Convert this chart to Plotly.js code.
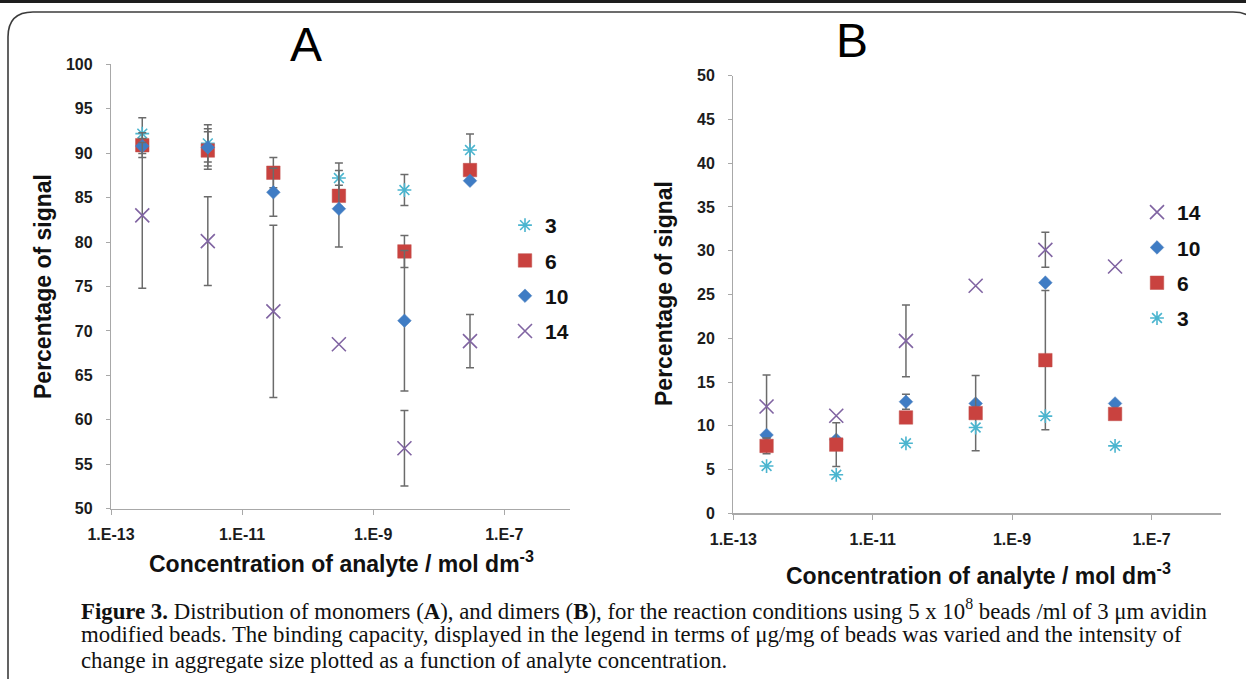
<!DOCTYPE html>
<html>
<head>
<meta charset="utf-8">
<script src="https://cdn.plot.ly/plotly-3.0.1.min.js"></script>
<style>
  html, body { margin: 0; padding: 0; background: #ffffff; }
  #chart { width: 1246px; height: 679px; }
</style>
</head>
<body>
<div id="chart"></div>
<script>
// Analyte concentrations (mol dm-3), shared by both panels
const concentration = [3e-13, 3e-12, 3e-11, 3e-10, 3e-9, 3e-8];

// Tick labels for the logarithmic concentration axis
const concTickVals = [1e-13, 1e-11, 1e-9, 1e-7];
const concTickText = ['1.E-13', '1.E-11', '1.E-9', '1.E-7'];

// Panel A – monomers, percentage of signal per binding capacity (µg/mg)
const monoCap3 = [92.2, 91.1, null, 87.2, 85.85, 90.35];
const monoCap3Err = [1.8, 2.1, null, 1.7, 1.75, 1.8];
const monoCap6 = [90.9, 90.3, 87.8, 85.2, 78.95, 88.1];
const monoCap6Err = [1.4, 2.1, 1.7, 1.2, 1.8, null];
const monoCap10 = [90.8, 90.65, 85.6, 83.75, 71.15, 86.9];
const monoCap10Err = [0.85, 2.1, 2.7, 4.3, 7.9, null];
const monoCap14 = [83.0, 80.1, 72.2, 68.5, 56.8, 68.85];
const monoCap14Err = [8.2, 5.0, 9.7, null, 4.25, 3.0];

// Panel B – dimers, percentage of signal per binding capacity (µg/mg)
const dimerCap14 = [12.2, 11.15, 19.7, 26.0, 30.1, 28.2];
const dimerCap14Err = [3.6, null, 4.1, null, 2.0, null];
const dimerCap10 = [8.95, 8.4, 12.75, 12.55, 26.35, 12.55];
const dimerCap10Err = [null, null, 0.85, null, null, null];
const dimerCap6 = [7.7, 7.85, 10.95, 11.45, 17.5, 11.35];
const dimerCap6Err = [0.9, 2.5, null, 4.3, 7.95, null];
const dimerCap3 = [5.4, 4.4, 8.0, 9.8, 11.1, 7.7];
const dimerCap3Err = [null, null, null, null, null, null];

// Figure caption, one entry per printed line
const captionLines = [
  '<b>Figure 3.</b> Distribution of monomers (<b>A</b>), and dimers (<b>B</b>), for the reaction conditions using 5 x 10<sup>8</sup> beads /ml of 3 μm avidin',
  'modified beads. The binding capacity, displayed in the legend in terms of μg/mg of beads was varied and the intensity of',
  'change in aggregate size plotted as a function of analyte concentration.'
];

// Figure size and helpers converting pixel positions to paper fractions
const W = 1246, H = 679;
const fx = p => p / W;
const fy = p => 1 - p / H;

const SANS = 'Liberation Sans, Arial, sans-serif';
const SERIF = 'Liberation Serif, Times New Roman, serif';

const styles = {
  '3':  { symbol: 'asterisk-open', size: 11.5, color: '#4bb5cf', line: { color: '#4bb5cf', width: 1.6 } },
  '6':  { symbol: 'square', size: 13.5, color: '#c9423f', line: { color: '#c0504d', width: 0.5 } },
  '10': { symbol: 'diamond', size: 10.5, color: '#3f7cc4', line: { color: '#4f81bd', width: 0.5 } },
  '14': { symbol: 'x-thin-open', size: 14, color: '#8064a2', line: { color: '#8064a2', width: 1.6 } }
};

const errArray = arr => arr.map(v => (v === null ? NaN : v));

function series(name, y, err, xa, ya, legend, group) {
  return {
    type: 'scatter',
    mode: 'markers',
    name: name,
    x: concentration,
    y: y,
    xaxis: xa,
    yaxis: ya,
    legend: legend,
    legendgroup: group,
    marker: styles[name],
    error_y: {
      type: 'data', array: errArray(err), visible: true,
      color: '#6b6b6b', thickness: 1.5, width: 4
    },
    hoverinfo: 'x+y+name'
  };
}

const traces = [
  series('3', monoCap3, monoCap3Err, 'x', 'y', 'legend', 'a3'),
  series('6', monoCap6, monoCap6Err, 'x', 'y', 'legend', 'a6'),
  series('10', monoCap10, monoCap10Err, 'x', 'y', 'legend', 'a10'),
  series('14', monoCap14, monoCap14Err, 'x', 'y', 'legend', 'a14'),
  series('14', dimerCap14, dimerCap14Err, 'x2', 'y2', 'legend2', 'b14'),
  series('10', dimerCap10, dimerCap10Err, 'x2', 'y2', 'legend2', 'b10'),
  series('6', dimerCap6, dimerCap6Err, 'x2', 'y2', 'legend2', 'b6'),
  series('3', dimerCap3, dimerCap3Err, 'x2', 'y2', 'legend2', 'b3')
];

const tickFont = { family: SANS, size: 16, color: '#1c1c1c', weight: 'bold' };

function concAxis(domain, anchor) {
  return {
    type: 'log', range: [-13, -6], domain: domain, anchor: anchor,
    tickmode: 'array', tickvals: concTickVals, ticktext: concTickText,
    ticks: 'outside', ticklen: 5, tickcolor: '#a8a8a8', tickwidth: 1,
    showline: true, linecolor: '#a8a8a8', linewidth: 1.2,
    showgrid: false, zeroline: false, tickfont: tickFont,
    ticklabelstandoff: 6
  };
}

function signalAxis(range, domain, anchor) {
  return {
    range: range, domain: domain, anchor: anchor,
    tick0: 0, dtick: 5,
    ticks: 'outside', ticklen: 4, tickcolor: '#a8a8a8', tickwidth: 1,
    showline: true, linecolor: '#a8a8a8', linewidth: 1.2,
    showgrid: false, zeroline: false, tickfont: tickFont,
    ticklabelstandoff: 10
  };
}

const legendStyle = (x, y) => ({
  x: x, y: y, xanchor: 'left', yanchor: 'top',
  font: { family: SANS, size: 21, color: '#111111', weight: 'bold' },
  bgcolor: 'rgba(0,0,0,0)', borderwidth: 0, tracegroupgap: 5,
  itemclick: false, itemdoubleclick: false
});

const axisTitleFont = { family: SANS, size: 23, color: '#111111', weight: 'bold' };

const annotations = [
  { text: 'A', x: fx(306), y: fy(45), xref: 'paper', yref: 'paper', showarrow: false,
    xanchor: 'center', yanchor: 'middle', font: { family: SANS, size: 48, color: '#000000' } },
  { text: 'B', x: fx(852), y: fy(40), xref: 'paper', yref: 'paper', showarrow: false,
    xanchor: 'center', yanchor: 'middle', font: { family: SANS, size: 48, color: '#000000' } },
  { text: 'Percentage of signal', textangle: -90, x: fx(43), y: fy(287), xref: 'paper', yref: 'paper',
    showarrow: false, xanchor: 'center', yanchor: 'middle', font: axisTitleFont },
  { text: 'Percentage of signal', textangle: -90, x: fx(664), y: fy(294), xref: 'paper', yref: 'paper',
    showarrow: false, xanchor: 'center', yanchor: 'middle', font: axisTitleFont },
  { text: 'Concentration of analyte / mol dm<sup>-3</sup>', x: fx(341), y: fy(562), xref: 'paper', yref: 'paper',
    showarrow: false, xanchor: 'center', yanchor: 'middle', font: axisTitleFont },
  { text: 'Concentration of analyte / mol dm<sup>-3</sup>', x: fx(978), y: fy(574), xref: 'paper', yref: 'paper',
    showarrow: false, xanchor: 'center', yanchor: 'middle', font: axisTitleFont }
];

// Caption lines, evenly spaced below the panels
const captionTop = 609, captionStep = 25.8;
captionLines.forEach((line, i) => {
  annotations.push({
    text: line, x: fx(79), y: fy(captionTop + i * captionStep), xref: 'paper', yref: 'paper',
    showarrow: false, xanchor: 'left', yanchor: 'middle', align: 'left',
    font: { family: SERIF, size: 22.8, color: '#111111' }
  });
});

// Page frame: dark rule along the top and a rounded border around the figure
const frameLeft = 8, frameTop = 12, frameRight = 1258, frameBottom = 700, rad = 25;
const framePath =
  `M ${fx(frameLeft)},${fy(frameBottom)} L ${fx(frameLeft)},${fy(frameTop + rad)} ` +
  `Q ${fx(frameLeft)},${fy(frameTop)} ${fx(frameLeft + rad)},${fy(frameTop)} ` +
  `L ${fx(frameRight - rad)},${fy(frameTop)} ` +
  `Q ${fx(frameRight)},${fy(frameTop)} ${fx(frameRight)},${fy(frameTop + rad)} ` +
  `L ${fx(frameRight)},${fy(frameBottom)}`;

const shapes = [
  { type: 'rect', xref: 'paper', yref: 'paper', x0: 0, x1: 1, y0: fy(3), y1: 1,
    fillcolor: '#1e1e1e', line: { width: 0 }, layer: 'below' },
  { type: 'path', xref: 'paper', yref: 'paper', path: framePath,
    line: { color: '#3c3c3c', width: 1.6 }, layer: 'below' }
];

const layout = {
  width: W, height: H,
  margin: { l: 0, r: 0, t: 0, b: 0 },
  paper_bgcolor: '#ffffff', plot_bgcolor: 'rgba(0,0,0,0)',
  showlegend: true,
  xaxis: concAxis([fx(111), fx(569.8)], 'y'),
  yaxis: signalAxis([50, 100], [fy(508.7), fy(64.3)], 'x'),
  xaxis2: concAxis([fx(733.3), fx(1221.2)], 'y2'),
  yaxis2: signalAxis([0, 50], [fy(513.3), fy(75.7)], 'x2'),
  legend: legendStyle(fx(505), fy(205)),
  legend2: legendStyle(fx(1137), fy(192)),
  annotations: annotations,
  shapes: shapes
};

Plotly.newPlot('chart', traces, layout, { staticPlot: true, displayModeBar: false });
</script>
</body>
</html>
